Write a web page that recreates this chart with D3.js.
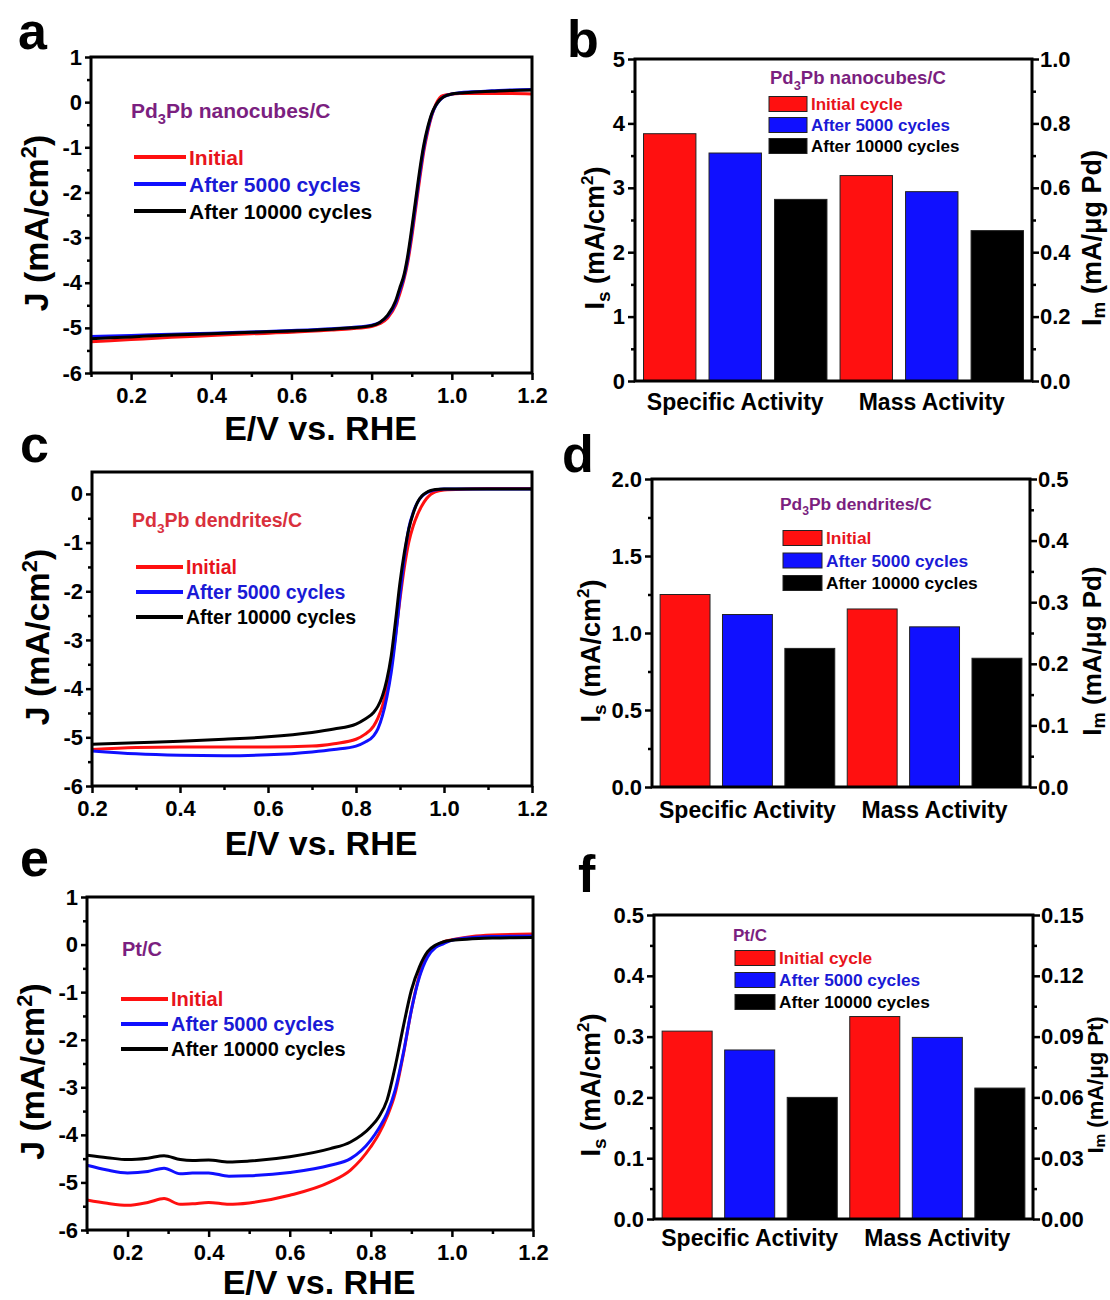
<!DOCTYPE html>
<html>
<head>
<meta charset="utf-8">
<script src="https://cdn.jsdelivr.net/npm/d3@7"></script>
<style>
  body { margin: 0; background: #fff; }
  text { font-family: "Liberation Sans", Arial, sans-serif; font-weight: bold; }
</style>
</head>
<body>
<div id="fig"></div>
<script>
// ---- data ----
const seriesNames = ["Initial", "After 5000 cycles", "After 10000 cycles"];
const barSeriesNamesB = ["Initial cycle", "After 5000 cycles", "After 10000 cycles"];
const barSeriesNamesD = ["Initial", "After 5000 cycles", "After 10000 cycles"];
const barCategories = ["Specific Activity", "Mass Activity"];

// panel a: Pd3Pb nanocubes/C
const potA = [0.1,0.2,0.3,0.4,0.5,0.6,0.7,0.75,0.8,0.82,0.84,0.86,0.87,0.88,0.89,0.9,0.91,0.92,0.93,0.94,0.95,0.96,0.97,0.98,1.0,1.02,1.05,1.1,1.15,1.2];
const jA_initial = [-5.31,-5.26,-5.21,-5.17,-5.13,-5.1,-5.05,-5.02,-4.97,-4.91,-4.78,-4.5,-4.25,-3.95,-3.55,-3.0,-2.35,-1.7,-1.1,-0.65,-0.3,-0.05,0.1,0.15,0.18,0.19,0.19,0.19,0.19,0.18];
const jA_5000 = [-5.19,-5.17,-5.14,-5.12,-5.09,-5.06,-5.02,-4.99,-4.94,-4.88,-4.74,-4.45,-4.18,-3.9,-3.48,-2.9,-2.25,-1.6,-1.02,-0.6,-0.28,-0.08,0.04,0.12,0.18,0.21,0.23,0.25,0.27,0.28];
const jA_10000 = [-5.24,-5.2,-5.16,-5.13,-5.1,-5.07,-5.03,-5.0,-4.95,-4.88,-4.72,-4.4,-4.12,-3.85,-3.4,-2.8,-2.15,-1.5,-0.95,-0.55,-0.25,-0.07,0.05,0.12,0.18,0.2,0.22,0.24,0.26,0.27];

// panel c: Pd3Pb dendrites/C
const potC = [0.2,0.3,0.4,0.5,0.6,0.7,0.75,0.8,0.82,0.84,0.85,0.86,0.87,0.88,0.89,0.9,0.91,0.92,0.93,0.94,0.95,0.96,0.97,0.98,1.0,1.05,1.1,1.2];
const jC_initial = [-5.25,-5.21,-5.2,-5.2,-5.2,-5.18,-5.13,-5.04,-4.94,-4.77,-4.6,-4.36,-4.0,-3.53,-2.9,-2.16,-1.5,-0.99,-0.66,-0.42,-0.24,-0.1,-0.01,0.04,0.08,0.1,0.11,0.11];
const jC_5000 = [-5.28,-5.34,-5.37,-5.38,-5.36,-5.3,-5.25,-5.18,-5.1,-4.97,-4.82,-4.56,-4.18,-3.67,-2.95,-2.09,-1.3,-0.7,-0.38,-0.17,-0.05,0.02,0.06,0.08,0.1,0.1,0.1,0.1];
const jC_10000 = [-5.14,-5.11,-5.08,-5.04,-4.99,-4.9,-4.83,-4.73,-4.63,-4.49,-4.36,-4.15,-3.82,-3.33,-2.6,-1.82,-1.2,-0.72,-0.4,-0.17,-0.04,0.03,0.07,0.09,0.1,0.1,0.1,0.1];

// panel e: Pt/C
const potE = [0.1,0.15,0.2,0.25,0.29,0.33,0.36,0.4,0.45,0.5,0.6,0.7,0.75,0.8,0.82,0.84,0.86,0.88,0.9,0.92,0.94,0.96,0.98,1.0,1.05,1.1,1.2];
const jE_initial = [-5.37,-5.44,-5.48,-5.42,-5.34,-5.46,-5.45,-5.42,-5.46,-5.43,-5.27,-4.99,-4.74,-4.25,-3.98,-3.62,-3.13,-2.32,-1.38,-0.64,-0.22,-0.04,0.06,0.1,0.17,0.2,0.22];
const jE_5000 = [-4.64,-4.74,-4.8,-4.77,-4.7,-4.82,-4.8,-4.8,-4.87,-4.86,-4.79,-4.64,-4.5,-4.11,-3.86,-3.55,-3.06,-2.29,-1.38,-0.68,-0.26,-0.06,0.02,0.09,0.15,0.17,0.18];
const jE_10000 = [-4.43,-4.48,-4.52,-4.49,-4.44,-4.52,-4.54,-4.53,-4.57,-4.55,-4.46,-4.29,-4.15,-3.83,-3.62,-3.27,-2.57,-1.73,-0.96,-0.47,-0.15,-0.01,0.06,0.09,0.12,0.14,0.15];

// bar panels: specific activity (mA/cm2, left axis) and mass activity (right axis)
const specB = [3.84, 3.54, 2.82];
const massB = [0.638, 0.588, 0.467];
const specD = [1.25, 1.12, 0.90];
const massD = [0.289, 0.26, 0.209];
const specF = [0.309, 0.278, 0.200];
const massF = [0.0999, 0.0896, 0.0646];

// ---- styling ----
const lineColors = ["#ff1010", "#1010ff", "#000000"];
const textColors = ["#e8141c", "#1a1ad6", "#000000"];
const purple = "#7b1f80";

const svg = d3.select("#fig").append("svg")
    .attr("width", 1110)
    .attr("height", 1300);

function styleAxis(g, fontSize) {
    g.select(".domain").remove();
    g.selectAll(".tick line").attr("stroke", "#000").attr("stroke-width", 2.5);
    g.selectAll(".tick text")
        .attr("fill", "#000")
        .style("font-size", fontSize + "px");
}

function panelLetter(letter, x, y) {
    svg.append("text")
        .attr("x", x).attr("y", y)
        .style("font-size", "52px")
        .text(letter);
}

// subscripted label like Pd3Pb ...
function chemTitle(g, x, y, size, color, rest) {
    const t = g.append("text").attr("x", x).attr("y", y)
        .attr("fill", color).style("font-size", size + "px");
    t.append("tspan").text("Pd");
    t.append("tspan").attr("dy", size * 0.3).style("font-size", (size * 0.7) + "px").text("3");
    t.append("tspan").attr("dy", -size * 0.3).text("Pb " + rest);
}

function drawLsv(o) {
    const x = d3.scaleLinear().domain(o.xDomain).range([o.left, o.right]);
    const y = d3.scaleLinear().domain(o.yDomain).range([o.bottom, o.top]);
    const g = svg.append("g");

    // minor + major ticks
    g.append("g").attr("transform", `translate(0,${o.bottom})`)
        .call(d3.axisBottom(x).tickValues(o.xMinor).tickSize(4).tickFormat(""))
        .call(a => styleAxis(a, 22));
    g.append("g").attr("transform", `translate(0,${o.bottom})`)
        .call(d3.axisBottom(x).tickValues(o.xMajor).tickSize(7).tickPadding(7).tickFormat(d3.format(".1f")))
        .call(a => styleAxis(a, 22));
    g.append("g").attr("transform", `translate(${o.left},0)`)
        .call(d3.axisLeft(y).tickValues(o.yMinor).tickSize(4).tickFormat(""))
        .call(a => styleAxis(a, 22));
    g.append("g").attr("transform", `translate(${o.left},0)`)
        .call(d3.axisLeft(y).tickValues(o.yMajor).tickSize(6).tickPadding(3).tickFormat(d => String(d)))
        .call(a => styleAxis(a, 22));

    const line = d3.line()
        .x((d, i) => x(o.E[i]))
        .y(d => y(d))
        .curve(d3.curveMonotoneX);

    o.series.forEach((s, i) => {
        g.append("path")
            .datum(s)
            .attr("fill", "none")
            .attr("stroke", lineColors[i])
            .attr("stroke-width", 3)
            .attr("d", line);
    });

    // frame
    g.append("rect")
        .attr("x", o.left).attr("y", o.top)
        .attr("width", o.right - o.left).attr("height", o.bottom - o.top)
        .attr("fill", "none").attr("stroke", "#000").attr("stroke-width", 3);

    // axis titles
    const yt = g.append("text")
        .attr("transform", `translate(${o.left - 43},${(o.top + o.bottom) / 2 + 8}) rotate(-90)`)
        .attr("text-anchor", "middle")
        .style("font-size", "34px");
    yt.append("tspan").text("J (mA/cm");
    yt.append("tspan").attr("dy", -12).style("font-size", "22px").text("2");
    yt.append("tspan").attr("dy", 12).text(")");

    g.append("text")
        .attr("x", (o.left + o.right) / 2 + 9).attr("y", o.xTitleY)
        .attr("text-anchor", "middle")
        .style("font-size", "34px")
        .text("E/V vs. RHE");

    // legend
    const lg = o.legend;
    if (lg.chem) chemTitle(g, lg.titleX, lg.titleY, lg.size, lg.titleColor, lg.chem);
    else g.append("text").attr("x", lg.titleX).attr("y", lg.titleY)
        .attr("fill", lg.titleColor).style("font-size", lg.size + "px").text(lg.title);

    seriesNames.forEach((name, i) => {
        const ly = lg.y0 + i * lg.dy;
        g.append("line")
            .attr("x1", lg.x1).attr("x2", lg.x2)
            .attr("y1", ly).attr("y2", ly)
            .attr("stroke", lineColors[i]).attr("stroke-width", 4);
        g.append("text")
            .attr("x", lg.x2 + 3).attr("y", ly + lg.size * 0.36)
            .attr("fill", textColors[i])
            .style("font-size", lg.size + "px")
            .text(name);
    });
}

function drawBars(o) {
    const yL = d3.scaleLinear().domain(o.yLDomain).range([o.bottom, o.top]);
    const yR = d3.scaleLinear().domain(o.yRDomain).range([o.bottom, o.top]);
    const x0 = d3.scaleBand().domain(barCategories).range([o.left, o.right]).paddingOuter(0.01);
    const x1 = d3.scaleBand().domain(d3.range(3)).range([0, x0.bandwidth()])
        .paddingInner(0.2).paddingOuter(0.1);
    const g = svg.append("g");

    const groups = [
        { cat: barCategories[0], vals: o.spec, scale: yL },
        { cat: barCategories[1], vals: o.mass, scale: yR }
    ];
    groups.forEach(gr => {
        g.selectAll(null)
            .data(gr.vals)
            .join("rect")
            .attr("x", (d, i) => x0(gr.cat) + x1(i))
            .attr("y", d => gr.scale(d))
            .attr("width", x1.bandwidth())
            .attr("height", d => o.bottom - gr.scale(d))
            .attr("fill", (d, i) => lineColors[i])
            .attr("stroke", "#222")
            .attr("stroke-width", 1);
        g.append("text")
            .attr("x", x0(gr.cat) + x0.bandwidth() / 2)
            .attr("y", o.bottom + o.catDy)
            .attr("text-anchor", "middle")
            .style("font-size", "23px")
            .text(gr.cat);
    });

    g.append("g").attr("transform", `translate(${o.left},0)`)
        .call(d3.axisLeft(yL).tickValues(o.yLMinor).tickSize(4).tickFormat(""))
        .call(a => styleAxis(a, 22));
    g.append("g").attr("transform", `translate(${o.left},0)`)
        .call(d3.axisLeft(yL).tickValues(o.yLMajor).tickSize(7).tickPadding(3).tickFormat(d3.format(o.yLFormat)))
        .call(a => styleAxis(a, 22));
    g.append("g").attr("transform", `translate(${o.right},0)`)
        .call(d3.axisRight(yR).tickValues(o.yRMinor).tickSize(4).tickFormat(""))
        .call(a => styleAxis(a, 22));
    g.append("g").attr("transform", `translate(${o.right},0)`)
        .call(d3.axisRight(yR).tickValues(o.yRMajor).tickSize(7).tickPadding(1).tickFormat(d3.format(o.yRFormat)))
        .call(a => styleAxis(a, 22));

    g.append("rect")
        .attr("x", o.left).attr("y", o.top)
        .attr("width", o.right - o.left).attr("height", o.bottom - o.top)
        .attr("fill", "none").attr("stroke", "#000").attr("stroke-width", 3);

    // left title I_s (mA/cm2)
    const mid = (o.top + o.bottom) / 2 + 18;
    const lt = g.append("text")
        .attr("transform", `translate(${o.leftTitleX},${mid}) rotate(-90)`)
        .attr("text-anchor", "middle")
        .style("font-size", "27px");
    lt.append("tspan").text("I");
    lt.append("tspan").attr("dy", 6).style("font-size", "19px").text("s");
    lt.append("tspan").attr("dy", -6).text(" (mA/cm");
    lt.append("tspan").attr("dy", -11).style("font-size", "17px").text("2");
    lt.append("tspan").attr("dy", 11).text(")");

    // right title I_m (mA/ug X)
    const rs = o.rightTitleSize;
    const rt = g.append("text")
        .attr("transform", `translate(${o.rightTitleX},${mid}) rotate(-90)`)
        .attr("text-anchor", "middle")
        .style("font-size", rs + "px");
    rt.append("tspan").text("I");
    rt.append("tspan").attr("dy", o.subDy).style("font-size", (rs * 0.7) + "px").text("m");
    rt.append("tspan").attr("dy", -o.subDy).text(" (mA/\u03bcg " + o.metal + ")");

    // legend
    const lg = o.legend;
    if (lg.chem) chemTitle(g, lg.titleX, lg.titleY, lg.titleSize, purple, lg.chem);
    else g.append("text").attr("x", lg.titleX).attr("y", lg.titleY)
        .attr("fill", purple).style("font-size", lg.titleSize + "px").text(lg.title);
    lg.names.forEach((name, i) => {
        const cy = lg.y0 + i * lg.dy;
        g.append("rect")
            .attr("x", lg.x).attr("y", cy - 7.5)
            .attr("width", lg.w).attr("height", 15)
            .attr("fill", lineColors[i]).attr("stroke", "#222").attr("stroke-width", 1);
        g.append("text")
            .attr("x", lg.x + lg.w + 4).attr("y", cy + lg.size * 0.36)
            .attr("fill", textColors[i])
            .style("font-size", lg.size + "px")
            .text(name);
    });
}

// ---- panels ----
drawLsv({
    left: 91, right: 532, top: 57, bottom: 373,
    xDomain: [0.1, 1.2], yDomain: [-6, 1],
    xMajor: [0.2, 0.4, 0.6, 0.8, 1.0, 1.2], xMinor: [0.1, 0.3, 0.5, 0.7, 0.9, 1.1],
    yMajor: d3.range(-6, 2, 1), yMinor: d3.range(-5.5, 1, 1),
    E: potA, series: [jA_initial, jA_5000, jA_10000],
    xTitleY: 440,
    legend: { chem: "nanocubes/C", titleX: 131, titleY: 118, titleColor: purple, size: 21,
              x1: 134, x2: 186, y0: 157, dy: 27 }
});

drawLsv({
    left: 92, right: 532, top: 472, bottom: 786,
    xDomain: [0.2, 1.2], yDomain: [-6, 0.45],
    xMajor: [0.2, 0.4, 0.6, 0.8, 1.0, 1.2], xMinor: [0.3, 0.5, 0.7, 0.9, 1.1],
    yMajor: d3.range(-6, 1, 1), yMinor: d3.range(-5.5, 0.5, 1),
    E: potC, series: [jC_initial, jC_5000, jC_10000],
    xTitleY: 855,
    legend: { chem: "dendrites/C", titleX: 132, titleY: 527, titleColor: "#d9303c", size: 19.5,
              x1: 136, x2: 183, y0: 567, dy: 25 }
});

drawLsv({
    left: 87, right: 533, top: 897, bottom: 1230,
    xDomain: [0.1, 1.2], yDomain: [-6, 1],
    xMajor: [0.2, 0.4, 0.6, 0.8, 1.0, 1.2], xMinor: [0.1, 0.3, 0.5, 0.7, 0.9, 1.1],
    yMajor: d3.range(-6, 2, 1), yMinor: d3.range(-5.5, 1, 1),
    E: potE, series: [jE_initial, jE_5000, jE_10000],
    xTitleY: 1294,
    legend: { title: "Pt/C", titleX: 122, titleY: 956, titleColor: purple, size: 20,
              x1: 121, x2: 168, y0: 999, dy: 25 }
});

drawBars({
    left: 635, right: 1032, top: 59, bottom: 381,
    yLDomain: [0, 5], yRDomain: [0, 1],
    yLMajor: d3.range(0, 6, 1), yLMinor: d3.range(0.5, 5, 1), yLFormat: "d",
    yRMajor: [0, 0.2, 0.4, 0.6, 0.8, 1.0], yRMinor: [0.1, 0.3, 0.5, 0.7, 0.9], yRFormat: ".1f",
    spec: specB, mass: massB, metal: "Pd", catDy: 29,
    leftTitleX: 604, rightTitleX: 1101, rightTitleSize: 27, subDy: 4,
    legend: { chem: "nanocubes/C", titleX: 770, titleY: 84, titleSize: 18.5, size: 17,
              names: barSeriesNamesB, x: 769, w: 38, y0: 104, dy: 21 }
});

drawBars({
    left: 652, right: 1030, top: 479, bottom: 787,
    yLDomain: [0, 2], yRDomain: [0, 0.5],
    yLMajor: [0, 0.5, 1.0, 1.5, 2.0], yLMinor: [0.25, 0.75, 1.25, 1.75], yLFormat: ".1f",
    yRMajor: [0, 0.1, 0.2, 0.3, 0.4, 0.5], yRMinor: [0.05, 0.15, 0.25, 0.35, 0.45], yRFormat: ".1f",
    spec: specD, mass: massD, metal: "Pd", catDy: 31,
    leftTitleX: 600, rightTitleX: 1101, rightTitleSize: 26, subDy: 4,
    legend: { chem: "dendrites/C", titleX: 780, titleY: 510, titleSize: 17.4, size: 17.4,
              names: barSeriesNamesD, x: 783, w: 39, y0: 538, dy: 22.5 }
});

drawBars({
    left: 654, right: 1033, top: 915, bottom: 1219,
    yLDomain: [0, 0.5], yRDomain: [0, 0.15],
    yLMajor: [0, 0.1, 0.2, 0.3, 0.4, 0.5], yLMinor: [0.05, 0.15, 0.25, 0.35, 0.45], yLFormat: ".1f",
    yRMajor: [0, 0.03, 0.06, 0.09, 0.12, 0.15], yRMinor: [0.015, 0.045, 0.075, 0.105, 0.135], yRFormat: ".2f",
    spec: specF, mass: massF, metal: "Pt", catDy: 27,
    leftTitleX: 600, rightTitleX: 1103, rightTitleSize: 22, subDy: 2,
    legend: { title: "Pt/C", titleX: 733, titleY: 941, titleSize: 17, size: 17.3,
              names: barSeriesNamesB, x: 735, w: 40, y0: 958, dy: 22 }
});

panelLetter("a", 18, 49);
panelLetter("b", 567, 57);
panelLetter("c", 20, 462);
panelLetter("d", 562, 472);
panelLetter("e", 20, 876);
panelLetter("f", 578, 892);
</script>
</body>
</html>
